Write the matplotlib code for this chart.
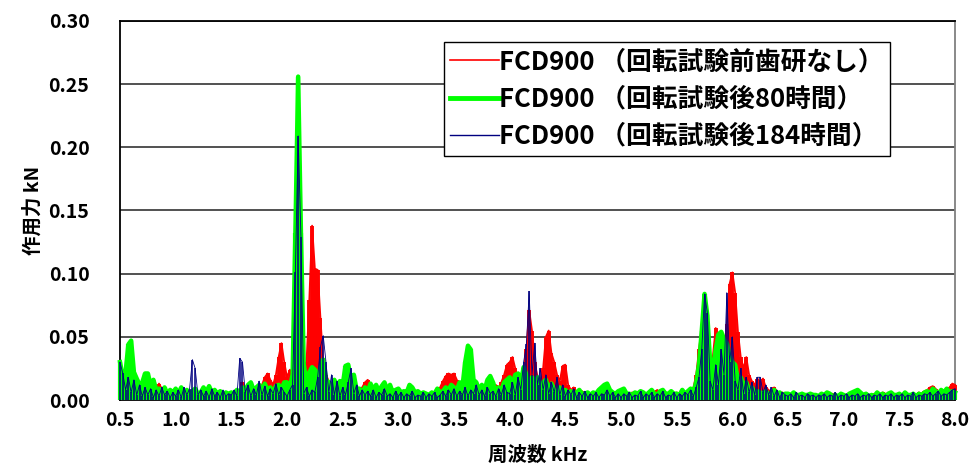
import numpy as np
import matplotlib
matplotlib.use("Agg")
import matplotlib.pyplot as plt

plt.rcParams['font.family'] = ['Noto Sans CJK JP', 'DejaVu Sans']
plt.rcParams['font.weight'] = 'bold'

# spectrum sampled every 25 Hz from 0.5 to 8.0 kHz, amplitudes read in N
freq_khz = np.round(0.5 + 0.025 * np.arange(301), 3)

red_N = [
    12, 5, 10, 4, 8, 6, 9, 3, 7, 5,
    6, 4, 8, 5, 13, 9, 4, 6, 3, 5,
    4, 6, 3, 5, 4, 7, 3, 5, 4, 3,
    5, 3, 4, 6, 3, 5, 4, 3, 5, 4,
    4, 6, 8, 5, 14, 8, 6, 9, 5, 7,
    8, 12, 18, 21, 16, 12, 20, 34, 45, 30,
    18, 24, 20, 30, 45, 25, 12, 30, 79, 138,
    104, 103, 65, 30, 20, 15, 10, 8, 6, 5,
    6, 5, 8, 4, 6, 5, 8, 10, 14, 16,
    12, 8, 6, 9, 5, 7, 10, 6, 5, 4,
    5, 4, 6, 3, 5, 4, 6, 3, 4, 5,
    4, 5, 3, 5, 6, 10, 15, 19, 21, 20,
    21, 16, 8, 6, 5, 7, 6, 5, 4, 6,
    5, 7, 6, 8, 10, 12, 9, 14, 20, 28,
    30, 34, 25, 12, 15, 20, 40, 71, 55, 30,
    18, 14, 25, 50, 55, 37, 30, 20, 15, 27,
    28, 12, 8, 10, 6, 5, 7, 5, 4, 5,
    5, 4, 6, 5, 7, 4, 5, 6, 4, 5,
    5, 6, 4, 5, 6, 4, 5, 4, 6, 5,
    4, 5, 6, 8, 5, 4, 6, 5, 4, 5,
    6, 5, 4, 6, 5, 8, 10, 20, 40, 58,
    35, 25, 20, 35, 57, 50, 30, 40, 60, 92,
    101, 85, 54, 34, 25, 34, 20, 15, 12, 17,
    14, 17, 10, 8, 6, 10, 7, 5, 6, 4,
    4, 5, 3, 4, 5, 3, 4, 3, 4, 5,
    3, 4, 5, 3, 4, 3, 5, 4, 3, 4,
    4, 3, 5, 4, 3, 4, 5, 3, 4, 3,
    4, 5, 3, 4, 6, 5, 4, 3, 5, 4,
    4, 3, 5, 4, 3, 5, 4, 6, 5, 7,
    8, 10, 11, 9, 6, 5, 7, 8, 10, 13,
    12,
]

green_N = [
    30, 18, 22, 44, 47, 22, 17, 12, 14, 21,
    21, 12, 16, 8, 9, 6, 10, 5, 8, 6,
    9, 5, 10, 6, 8, 5, 7, 9, 5, 6,
    10, 6, 11, 6, 8, 5, 7, 4, 6, 5,
    6, 5, 8, 6, 10, 8, 12, 14, 8, 10,
    12, 8, 13, 8, 10, 6, 11, 12, 8, 14,
    14, 10, 20, 132, 256, 132, 28, 14, 22, 26,
    24, 16, 26, 32, 16, 14, 8, 16, 10, 15,
    12, 27, 28, 16, 20, 8, 9, 6, 10, 7,
    13, 8, 12, 7, 11, 14, 8, 12, 6, 8,
    9, 6, 7, 6, 12, 10, 6, 7, 5, 6,
    5, 4, 6, 5, 9, 6, 7, 10, 8, 12,
    10, 8, 14, 10, 30, 43, 40, 16, 14, 8,
    12, 8, 16, 19, 14, 7, 10, 8, 14, 16,
    18, 12, 20, 21, 14, 26, 20, 12, 18, 14,
    18, 10, 14, 16, 8, 13, 8, 6, 10, 5,
    8, 5, 7, 4, 6, 8, 5, 5, 6, 4,
    6, 5, 8, 10, 12, 13, 8, 6, 5, 7,
    8, 9, 5, 5, 4, 6, 5, 7, 6, 4,
    6, 8, 5, 4, 7, 8, 5, 5, 7, 5,
    5, 4, 8, 5, 7, 9, 6, 14, 28, 55,
    84, 67, 30, 25, 40, 52, 54, 48, 45, 35,
    30, 28, 16, 18, 12, 14, 8, 10, 6, 7,
    6, 5, 7, 5, 4, 8, 5, 6, 4, 5,
    5, 4, 6, 4, 4, 5, 4, 4, 5, 4,
    4, 3, 5, 4, 6, 5, 3, 4, 3, 5,
    4, 3, 5, 6, 7, 8, 6, 4, 5, 3,
    4, 3, 6, 4, 5, 3, 5, 6, 4, 4,
    5, 3, 6, 4, 4, 5, 3, 5, 4, 6,
    7, 5, 9, 7, 5, 8, 6, 9, 6, 7,
    6,
]

blue_N = [
    30, 21, 8, 18, 6, 16, 4, 12, 3, 10,
    4, 9, 2, 8, 3, 10, 4, 7, 2, 6,
    3, 8, 2, 10, 4, 9, 32, 25, 4, 8,
    3, 7, 2, 9, 3, 6, 2, 8, 3, 5,
    4, 8, 3, 33, 30, 6, 12, 3, 9, 4,
    15, 4, 11, 3, 9, 5, 13, 4, 10, 6,
    3, 8, 12, 101, 209, 129, 5, 10, 3, 8,
    6, 18, 42, 51, 30, 6, 20, 4, 15, 3,
    10, 4, 14, 25, 5, 12, 3, 8, 4, 7,
    3, 8, 2, 6, 4, 9, 3, 5, 2, 7,
    3, 6, 2, 5, 3, 7, 2, 4, 3, 6,
    2, 5, 3, 6, 2, 4, 7, 3, 8, 4,
    9, 3, 7, 4, 10, 3, 8, 5, 12, 4,
    8, 3, 10, 5, 7, 3, 9, 4, 12, 6,
    5, 14, 4, 18, 8, 30, 44, 86, 20, 45,
    12, 25, 8, 20, 5, 14, 6, 18, 4, 12,
    3, 8, 4, 9, 2, 6, 3, 7, 2, 5,
    3, 6, 2, 5, 4, 8, 3, 6, 2, 5,
    2, 5, 3, 6, 2, 4, 3, 7, 2, 5,
    3, 6, 2, 5, 3, 7, 2, 4, 3, 6,
    2, 5, 3, 6, 4, 8, 3, 10, 18, 40,
    84, 69, 15, 8, 28, 12, 40, 20, 85, 30,
    50, 15, 8, 25, 5, 18, 6, 14, 4, 18,
    18, 6, 12, 4, 10, 3, 8, 2, 6, 4,
    3, 5, 2, 6, 3, 4, 2, 5, 3, 4,
    2, 4, 3, 5, 2, 4, 3, 6, 2, 4,
    3, 5, 2, 4, 3, 5, 2, 4, 3, 5,
    2, 4, 3, 5, 2, 4, 3, 5, 2, 4,
    3, 5, 2, 4, 3, 6, 2, 4, 3, 5,
    4, 6, 3, 5, 7, 3, 5, 4, 6, 8,
    9,
]

labels = [
    'FCD900 （回転試験前歯研なし）',
    'FCD900 （回転試験後80時間）',
    'FCD900 （回転試験後184時間）',
]

fig = plt.figure(figsize=(9.71, 4.66), dpi=100)
fig.set_facecolor('white')
ax = fig.add_axes([0.1236, 0.1416, 0.86, 0.8134])

red = np.array(red_N) / 1000
green = np.array(green_N) / 1000
blue = np.array(blue_N) / 1000

# dense spectra: each sample drawn as a stem, joined by the series line
ax.vlines(freq_khz, 0, red, color='#FF0000', lw=2.8, zorder=3, clip_on=False)
l1, = ax.plot(freq_khz, red, color='#FF0000', lw=1.3, clip_on=False, zorder=3)
ax.vlines(freq_khz, 0, green, color='#00FF00', lw=3.0, zorder=4, clip_on=False)
l2, = ax.plot(freq_khz, green, color='#00FF00', lw=3.2, clip_on=False, zorder=4)
ax.vlines(freq_khz, 0, blue, color='#000080', lw=1.1, zorder=5, clip_on=False)
l3, = ax.plot(freq_khz, blue, color='#000080', lw=0.6, clip_on=False, zorder=5)

ax.set_xlim(0.5, 8.0)
ax.set_ylim(0, 0.30)
ax.set_xticks(np.arange(0.5, 8.01, 0.5))
ax.set_yticks(np.arange(0, 0.301, 0.05))
ax.set_xticklabels([f'{v:.1f}' for v in np.arange(0.5, 8.01, 0.5)])
ax.set_yticklabels([f'{v:.2f}' for v in np.arange(0, 0.301, 0.05)])
ax.tick_params(axis='both', length=0, labelsize=14)
ax.tick_params(axis='y', pad=22)
ax.tick_params(axis='x', pad=8)

ax.yaxis.grid(True, color='#222222', lw=1.1)
ax.set_axisbelow(True)
for s in ['left', 'top', 'bottom']:
    ax.spines[s].set_color('black')
    ax.spines[s].set_linewidth(1.3)
ax.spines['right'].set_color('#808080')
ax.spines['right'].set_linewidth(1.3)

ax.set_xlabel('周波数 kHz', fontsize=14, fontweight='bold', labelpad=11)
ax.set_ylabel('作用力 kN', fontsize=14, fontweight='bold', labelpad=4)

leg = ax.legend([l1, l2, l3], labels, loc='upper left',
                bbox_to_anchor=(0.457, 0.910), bbox_transform=fig.transFigure,
                fontsize=18.5, frameon=True, fancybox=False, framealpha=1,
                edgecolor='black', handlelength=1.9, handletextpad=0.0,
                labelspacing=0.4, borderpad=0.25, borderaxespad=0)
leg.get_frame().set_linewidth(1.0)
leg.set_zorder(10)
for t in leg.get_texts():
    t.set_fontweight('bold')
for h, w in zip(leg.get_lines(), [1.2, 3.5, 1.0]):
    h.set_linewidth(w)

fig.savefig('out.png', dpi=100)
